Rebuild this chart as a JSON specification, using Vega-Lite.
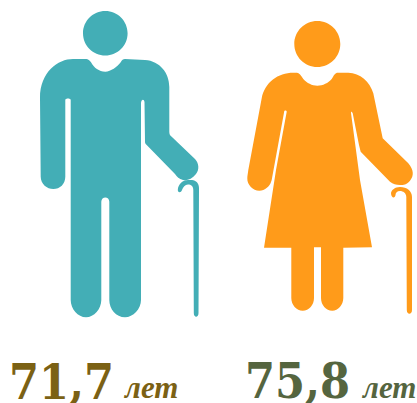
{
"$schema":"https://vega.github.io/schema/vega-lite/v6.json",
"width":417,"height":400,"autosize":{"type":"none"},"padding":{"left":0,"top":0,"right":0,"bottom":3},
"background":"white","view":{"stroke":null},
"data":{"values":[{"sex":"Мужчины","age":"71,7","unit":"лет"},{"sex":"Женщины","age":"75,8","unit":"лет"}]},
"resolve":{"scale":{"x":"independent","y":"independent","color":"independent"}},
"layer":[
{"mark":{"type":"point","filled":true,"size":4,"opacity":1,"strokeWidth":0},
"encoding":{
"x":{"field":"sex","type":"nominal","axis":null,"scale":{"type":"point","domain":["Мужчины","Женщины"],"range":[100,300],"padding":0}},
"color":{"field":"sex","type":"nominal","legend":null,"scale":{"domain":["Мужчины","Женщины"],"range":["#43AEB6","#FF9B1A"]}},
"shape":{"field":"sex","type":"nominal","legend":null,"scale":{"domain":["Мужчины","Женщины"],"range":[
"M-17,-166.7 A22.3,22.3 0 1 1 27.6,-166.7 A22.3,22.3 0 1 1 -17,-166.7 Z M-60,-102 C-60,-128 -42,-141 -27,-141 L-15,-141 C-11,-141 -10,-139 -9,-137.7 C-6,-132 -1,-128.5 5.3,-128.3 C11,-128.5 17,-133 20.7,-137.7 C22,-140 23,-141 25,-141 L45,-140 C60,-139 69.3,-127 69.3,-113 L69.3,-68.3 C69.3,-66 70,-64.5 71.7,-63.3 L95,-41 C99,-37 99.5,-30 96,-26 C92,-21 87,-19 83,-20 C79,-21 77,-23 75,-26 L46.7,-55 C45.5,-56 45,-57 45,-58.3 L44.5,-98 C44,-101 41.5,-101 41,-97 L41,100 C41,109 33,117.3 25,117.3 C16,117.3 9.3,109 9.3,100 L9.3,1.7 C9.3,-4 1.3,-4 1.3,1.7 L1.3,100 C1.3,109 -6,117.3 -14,117.3 C-22,117.3 -29.3,109 -29.3,100 L-29.3,-100 C-29.3,-102 -34.7,-102 -34.7,-100 L-34.7,-23.3 C-34.7,-16 -40,-11 -46.7,-11 C-53,-11 -59.3,-16 -59.3,-23.3 Z M77.8,-10 C78,-16 83,-20 88,-20 L92,-20 C96,-19.5 99,-17 99,-12 L98.5,113 C98.5,118 93.8,118 93.8,113 L93.3,-10 C93.3,-14 91,-15.5 88,-15.5 C85,-15.5 83,-13 82,-10 C81,-7 78,-7 77.8,-10 Z",
"M-5.7,-156 A23,23 0 1 1 40.3,-156 A23,23 0 1 1 -5.7,-156 Z M-38.3,-101.7 C-35,-118 -22,-127.3 -6.7,-127.3 L-3,-127.3 C-1,-127.3 1,-125 3.3,-121 C7,-117 12,-114.3 17.3,-114.3 C23,-114.3 28,-117 31.7,-121 C34,-125 35,-127.3 38,-127.3 L48.3,-127.3 C60,-127.3 70,-118 73.3,-106.7 L82.7,-61.7 L108.3,-36.7 C114,-30 114,-24 110,-19.3 C106,-15 104,-15 100,-15 C96,-15 93,-16 90,-18.3 L60.7,-48.3 L59,-55 L52.7,-86.7 C52,-88.5 51,-89 51,-87 L60,-20 L72,47.3 L43.3,47.7 L43.3,98 C43.3,105 38,110.7 32.3,110.7 C26,110.7 21,105 21,98 L21,47.3 L14,47.3 L14,98 C14,105 9,110.7 2.7,110.7 C-3.5,110.7 -8.7,105 -8.7,98 L-8.7,47.7 L-36,47.7 L-24,-30 L-13.3,-88.3 C-13,-89.5 -15.7,-90 -15.7,-89 L-28.3,-20 L-29,-18 C-30,-14 -35,-9.3 -40.7,-9.3 C-47,-9.3 -53,-15 -52.7,-21.7 C-52.7,-24 -52,-27 -51.7,-30 Z M91,-7 C91.5,-10 95,-13 100,-13 C107,-13 112,-9 112,-3 L112,110 C112,115 106.8,115 106.8,110 L106.3,-3 C106.3,-7 103,-9 100,-9 C97,-9 95.5,-7 95.5,-5 C95,-1 91,-2 91,-7 Z"
]}}
}},
{"mark":{"type":"text","font":"DejaVu Serif Condensed","fontWeight":"bold","fontSize":48,"align":"left","baseline":"alphabetic"},
"encoding":{
"x":{"field":"sex","type":"nominal","axis":null,"scale":{"type":"point","domain":["Мужчины","Женщины"],"range":[9,245],"padding":0}},
"y":{"field":"sex","type":"nominal","axis":null,"scale":{"type":"point","domain":["Мужчины","Женщины"],"range":[399,398],"padding":0}},
"text":{"field":"age"},
"color":{"field":"sex","type":"nominal","legend":null,"scale":{"domain":["Мужчины","Женщины"],"range":["#7B6114","#55653F"]}}
}},
{"mark":{"type":"text","font":"Liberation Serif","fontWeight":"bold","fontStyle":"italic","fontSize":31,"align":"left","baseline":"alphabetic"},
"encoding":{
"x":{"field":"sex","type":"nominal","axis":null,"scale":{"type":"point","domain":["Мужчины","Женщины"],"range":[125,363],"padding":0}},
"y":{"field":"sex","type":"nominal","axis":null,"scale":{"type":"point","domain":["Мужчины","Женщины"],"range":[398,398],"padding":0}},
"text":{"field":"unit"},
"color":{"field":"sex","type":"nominal","legend":null,"scale":{"domain":["Мужчины","Женщины"],"range":["#7B6114","#55653F"]}}
}}
]}
